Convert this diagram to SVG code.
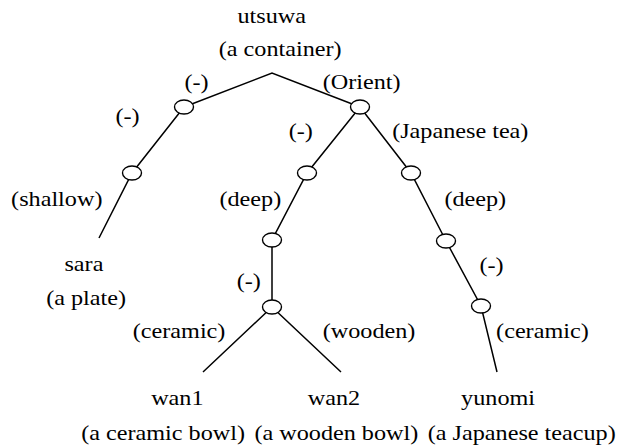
<svg xmlns="http://www.w3.org/2000/svg" width="617" height="447" viewBox="0 0 617 447">
<rect width="617" height="447" fill="#fff"/>
<g id="connectors" stroke="#000" stroke-width="1.5" fill="none">
  <polyline points="184,107 272,73 360,107"/>
  <polyline points="184,107 132,173 99,238"/>
  <polyline points="360,107 307,173 272,240 272,307"/>
  <polyline points="203,372 272,307 341,372"/>
  <polyline points="360,107 411,173 446,241 481,306 497,372"/>
</g>
<g id="junctions" fill="#fff" stroke="#000" stroke-width="1.4">
  <ellipse cx="184" cy="107" rx="9.5" ry="7"/>
  <ellipse cx="132" cy="173" rx="9.5" ry="7"/>
  <ellipse cx="360" cy="107" rx="9.5" ry="7"/>
  <ellipse cx="307" cy="173" rx="9.5" ry="7"/>
  <ellipse cx="272" cy="240" rx="9.5" ry="7"/>
  <ellipse cx="272" cy="307" rx="9.5" ry="7"/>
  <ellipse cx="411" cy="173" rx="9.5" ry="7"/>
  <ellipse cx="446" cy="241" rx="9.5" ry="7"/>
  <ellipse cx="481" cy="306" rx="9.5" ry="7"/>
</g>
<g id="edge-labels">
  <text x="167.7" y="89.5" transform="scale(1.1,1)" font-family="Liberation Serif" font-size="22">(-)</text>
  <text x="293.4" y="89" transform="scale(1.1,1)" font-family="Liberation Serif" font-size="22">(Orient)</text>
  <text x="105" y="123" transform="scale(1.1,1)" font-family="Liberation Serif" font-size="22">(-)</text>
  <text x="10.1" y="206" transform="scale(1.1,1)" font-family="Liberation Serif" font-size="22">(shallow)</text>
  <text x="262.5" y="138.5" transform="scale(1.1,1)" font-family="Liberation Serif" font-size="22">(-)</text>
  <text x="356.5" y="138" transform="scale(1.1,1)" font-family="Liberation Serif" font-size="22">(Japanese tea)</text>
  <text x="199.5" y="206" transform="scale(1.1,1)" font-family="Liberation Serif" font-size="22">(deep)</text>
  <text x="404" y="206" transform="scale(1.1,1)" font-family="Liberation Serif" font-size="22">(deep)</text>
  <text x="215.2" y="288" transform="scale(1.1,1)" font-family="Liberation Serif" font-size="22">(-)</text>
  <text x="435.9" y="272" transform="scale(1.1,1)" font-family="Liberation Serif" font-size="22">(-)</text>
  <text x="120.7" y="338" transform="scale(1.1,1)" font-family="Liberation Serif" font-size="22">(ceramic)</text>
  <text x="293.4" y="338" transform="scale(1.1,1)" font-family="Liberation Serif" font-size="22">(wooden)</text>
  <text x="451" y="338" transform="scale(1.1,1)" font-family="Liberation Serif" font-size="22">(ceramic)</text>
</g>
<g id="node-utsuwa">
  <text x="215.9" y="23" transform="scale(1.1,1)" font-family="Liberation Serif" font-size="22">utsuwa</text>
  <text x="198.9" y="56" transform="scale(1.1,1)" font-family="Liberation Serif" font-size="22">(a container)</text>
</g>
<g id="node-sara">
  <text x="58.6" y="271.5" transform="scale(1.1,1)" font-family="Liberation Serif" font-size="22">sara</text>
  <text x="42" y="305" transform="scale(1.1,1)" font-family="Liberation Serif" font-size="22">(a plate)</text>
</g>
<g id="node-wan1">
  <text x="137.4" y="405" transform="scale(1.1,1)" font-family="Liberation Serif" font-size="22">wan1</text>
  <text x="73.8" y="440" transform="scale(1.1,1)" font-family="Liberation Serif" font-size="22">(a ceramic bowl)</text>
</g>
<g id="node-wan2">
  <text x="279.8" y="405" transform="scale(1.1,1)" font-family="Liberation Serif" font-size="22">wan2</text>
  <text x="231.3" y="440" transform="scale(1.1,1)" font-family="Liberation Serif" font-size="22">(a wooden bowl)</text>
</g>
<g id="node-yunomi">
  <text x="419.2" y="405" transform="scale(1.1,1)" font-family="Liberation Serif" font-size="22">yunomi</text>
  <text x="388.9" y="440" transform="scale(1.1,1)" font-family="Liberation Serif" font-size="22">(a Japanese teacup)</text>
</g>
</svg>
